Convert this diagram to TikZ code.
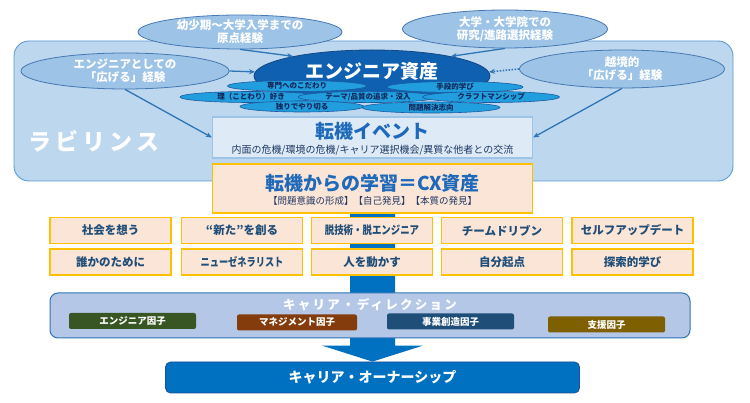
\documentclass[tikz,border=0pt]{standalone}
\usepackage{fontspec}
\usepackage{graphicx}
\setmainfont{Noto Sans CJK JP}
\usetikzlibrary{shapes.geometric,arrows.meta,calc}
\definecolor{labfill}{RGB}{189,215,238}
\definecolor{labdraw}{RGB}{91,155,213}
\definecolor{topfill}{RGB}{157,195,230}
\definecolor{topdraw}{RGB}{70,120,180}
\definecolor{bigfill}{RGB}{15,96,176}
\definecolor{bigdraw}{RGB}{20,70,130}
\definecolor{smallfill}{RGB}{32,158,222}
\definecolor{smalldraw}{RGB}{30,90,160}
\definecolor{smalltext}{RGB}{20,40,90}
\definecolor{arrowcol}{RGB}{46,117,182}
\definecolor{tenkifill}{RGB}{222,235,247}
\definecolor{tenkidraw}{RGB}{157,195,230}
\definecolor{titleblue}{RGB}{30,105,185}
\definecolor{subnavy}{RGB}{31,56,100}
\definecolor{peach}{RGB}{251,229,214}
\definecolor{gold}{RGB}{255,192,0}
\definecolor{rowtext}{RGB}{31,78,121}
\definecolor{cdfill}{RGB}{180,199,231}
\definecolor{cddraw}{RGB}{46,117,182}
\definecolor{ownfill}{RGB}{0,112,192}
\definecolor{owndraw}{RGB}{30,80,150}
\definecolor{fone}{RGB}{55,86,35}
\definecolor{ftwo}{RGB}{132,60,12}
\definecolor{fthree}{RGB}{31,78,121}
\definecolor{ffour}{RGB}{127,96,0}
\begin{document}
\begin{tikzpicture}[x=1pt,y=-1pt,
  topell/.style={ellipse, draw=topdraw, fill=topfill, line width=0.8pt, inner sep=0pt,
    text=white, align=center, font=\fontsize{11.5}{13}\selectfont\bfseries},
  smallell/.style={ellipse, draw=smalldraw, fill=smallfill, line width=0.6pt, inner sep=0pt,
    text=smalltext, font=\fontsize{7.5}{8}\selectfont\bfseries, minimum height=11pt},
  conn/.style={draw=arrowcol, line width=1.3pt, -{Stealth[length=6pt,width=5pt]}},
  rowbox/.style={draw=gold, fill=peach, line width=1.6pt, minimum width=121pt,
    minimum height=26pt, inner sep=0pt, text=rowtext, font=\fontsize{11.5}{12}\selectfont\bfseries},
  factor/.style={rounded corners=2pt, minimum height=16pt, inner sep=0pt, text=white,
    font=\fontsize{9.5}{10}\selectfont\bfseries},
  titletext/.style={text=titleblue, font=\fontsize{19}{20}\selectfont\bfseries, inner sep=0pt}
]
\useasboundingbox (0,0) rectangle (750,403);
\fill[white] (0,0) rectangle (750,403);

% labyrinth
\node[draw=labdraw, fill=labfill, line width=0.9pt, rounded corners=15pt,
  minimum width=719pt, minimum height=140pt, inner sep=0pt] (lab) at (373.5,111) {};
\node[text=white, font=\fontsize{23}{24}\selectfont\bfseries\addfontfeature{LetterSpace=18}, inner sep=0pt]
  (labtxt) at (94,141) {ラビリンス};

% outer ellipses
\node[topell, minimum width=204pt, minimum height=34pt] (e1) at (240,32) {幼少期〜大学入学までの\\原点経験};
\node[topell, minimum width=205pt, minimum height=38pt] (e2) at (505,29) {大学・大学院での\\研究/進路選択経験};
\node[topell, minimum width=208pt, minimum height=36pt] (e3) at (125,71) {エンジニアとしての\\「広げる」経験};
\node[topell, minimum width=205pt, minimum height=38pt] (e4) at (622,69) {越境的\\「広げる」経験};

% tenki event box
\node[draw=tenkidraw, fill=tenkifill, line width=1.2pt, minimum width=320pt,
  minimum height=41pt, inner sep=0pt] (tenki) at (372.5,137.5) {};
\node[titletext] (tenkititle) at (372.5,131) {転機イベント};
\node[text=subnavy, font=\fontsize{10}{11}\selectfont, inner sep=0pt] (tenkisub) at (372.5,150.5)
  {内面の危機/環境の危機/キャリア選択機会/異質な他者との交流};

% big engineer asset ellipse
\node[ellipse, fill=bigfill, draw=bigdraw, line width=0.8pt, minimum width=236pt,
  minimum height=52pt, inner sep=0pt] (big) at (372,76) {};
\node[text=white, font=\fontsize{19}{20}\selectfont\bfseries, inner sep=0pt] (bigtxt) at (372,71) {エンジニア資産};

% connectors
\draw[conn] (e1.south) -- (big.166);
\draw[conn] (e2.south) -- (big.14);
\draw[conn] (e3.east) -- (big.178);
\draw[conn, dash pattern=on 1.6pt off 1.4pt, line width=1.6pt] (e4.west) -- (big.2);
\draw[conn] (e3.south) -- (tenki.west);
\draw[conn] (e4.south) -- (tenki.east);

% small ellipses
\node[smallell, minimum width=139pt] (s1) at (297,86) {専門へのこだわり};
\node[smallell, minimum width=136pt] (s2) at (455,87) {手段的学び};
\node[smallell, minimum width=142pt] (s3) at (251,97) {理（ことわり）好き};
\node[smallell, minimum width=140pt] (s4) at (368,97) {テーマ/品質の追求・没入};
\node[smallell, minimum width=137pt] (s5) at (491,97) {クラフトマンシップ};
\node[smallell, minimum width=124pt] (s6) at (302,106.5) {独りでやり切る};
\node[smallell, minimum width=138pt] (s7) at (431,107.5) {問題解決志向};

% CX box and ownership (named before the big arrow)
\node[fill=ownfill, draw=owndraw, line width=0.8pt, rounded corners=5pt, minimum width=414pt,
  minimum height=31pt, inner sep=0pt, text=white, font=\fontsize{14}{15}\selectfont\bfseries]
  (own) at (372.5,377.5) {キャリア・オーナーシップ};

% big arrow from CX to ownership
\coordinate (cxs) at (372.5,213);
\fill[ownfill] ($(cxs)+(-22.5,-8)$) -- ($(cxs)+(22.5,-8)$) -- ($(own.north)+(22.5,-16)$)
  -- ($(own.north)+(50.5,-16)$) -- (own.north) -- ($(own.north)+(-50.5,-16)$)
  -- ($(own.north)+(-22.5,-16)$) -- cycle;

\node[draw=gold, fill=peach, line width=1.8pt, minimum width=320pt, minimum height=49pt,
  inner sep=0pt] (cx) at (372.5,188.5) {};
\node[titletext] (cxtitle) at (372.5,183) {転機からの学習＝CX資産};
\node[text=subnavy, font=\fontsize{9.5}{10}\selectfont, inner sep=0pt] (cxsub) at (372.5,201)
  {【問題意識の形成】【自己発見】【本質の発見】};

% row boxes
\node[rowbox] (r11) at (110.5,230.5) {社会を想う};
\node[rowbox] (r12) at (242,230.5) {“新た”を創る};
\node[rowbox] (r13) at (372,230.5) {\scalebox{0.82}[1]{脱技術・脱エンジニア}};
\node[rowbox] (r14) at (502,230.5) {チームドリブン};
\node[rowbox] (r15) at (632.5,230.5) {セルフアップデート};
\node[rowbox] (r21) at (110.5,262) {誰かのために};
\node[rowbox] (r22) at (242,262) {\scalebox{0.8}[1]{ニューゼネラリスト}};
\node[rowbox] (r23) at (372,262) {人を動かす};
\node[rowbox] (r24) at (502,262) {自分起点};
\node[rowbox] (r25) at (632.5,262) {探索的学び};

% career direction
\node[draw=cddraw, fill=cdfill, line width=1pt, rounded corners=8pt, minimum width=640pt,
  minimum height=45pt, inner sep=0pt] (cd) at (370,315.5) {};
\node[text=white, font=\fontsize{12.5}{13}\selectfont\bfseries\addfontfeature{LetterSpace=18}, inner sep=0pt]
  (cdtxt) at (370,304.5) {キャリア・ディレクション};
\node[factor, fill=fone, minimum width=127pt] (f1) at (132.5,321) {エンジニア因子};
\node[factor, fill=ftwo, minimum width=120pt] (f2) at (297,322.5) {マネジメント因子};
\node[factor, fill=fthree, minimum width=127pt] (f3) at (450.5,321.5) {事業創造因子};
\node[factor, fill=ffour, minimum width=117pt] (f4) at (606.5,324.5) {支援因子};
\end{tikzpicture}
\end{document}
